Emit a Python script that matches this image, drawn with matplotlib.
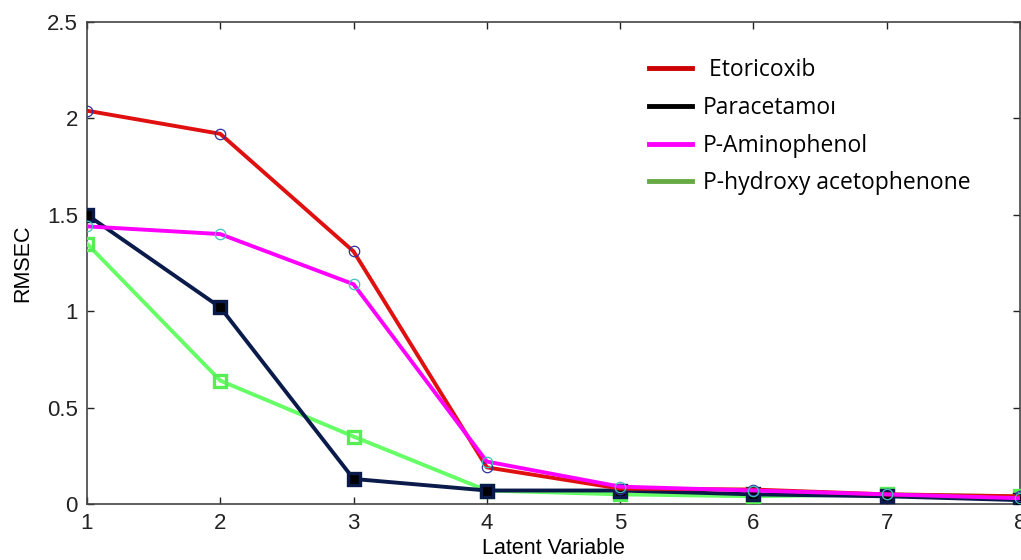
import matplotlib
matplotlib.use("Agg")
from matplotlib import pyplot as plt
from matplotlib.lines import Line2D

# latent variables on the x axis
latent = [1, 2, 3, 4, 5, 6, 7, 8]

# RMSEC per compound
etoricoxib = [2.04, 1.92, 1.31, 0.19, 0.08, 0.075, 0.05, 0.04]
paracetamol = [1.50, 1.02, 0.13, 0.07, 0.07, 0.05, 0.04, 0.02]
aminophenol = [1.44, 1.40, 1.14, 0.22, 0.09, 0.07, 0.05, 0.03]
hydroxyaceto = [1.35, 0.64, 0.35, 0.07, 0.05, 0.04, 0.05, 0.04]

legend_labels = [" Etoricoxib", "Paracetamoı", "P-Aminophenol", "P-hydroxy acetophenone"]

plt.rcParams['font.family'] = ['Liberation Sans', 'DejaVu Sans']

fig = plt.figure(figsize=(10.21, 5.6), dpi=100)
ax = fig.add_axes([0.0852, 0.1, 0.9138, 0.8607])

ax.plot(latent, etoricoxib, color='#e01010', lw=2.8, marker='o', ms=7.5,
        mfc='none', mec='#3030a0', mew=0.9, zorder=4)
ax.plot(latent, aminophenol, color='#ff00ff', lw=2.8, marker='o', ms=7.5,
        mfc='none', mec='#40c0c0', mew=0.9, zorder=4)
ax.plot(latent, hydroxyaceto, color='#66ff66', lw=2.8, marker='s', ms=9,
        mfc='none', mec='#55ee55', mew=2.4, zorder=3)
ax.plot(latent, paracetamol, color='#0a1a4a', lw=2.8, marker='s', ms=9,
        mfc='#000000', mec='#0a1a4a', mew=2.4, zorder=3)

ax.set_xlim(1, 8)
ax.set_ylim(0, 2.5)
ax.set_xticks(latent)
ax.set_yticks([0, 0.5, 1, 1.5, 2, 2.5])
ax.set_yticklabels(['0', '0.5', '1', '1.5', '2', '2.5'])
ax.tick_params(direction='in', top=True, right=True, labelsize=16, length=5,
               width=1, colors='#222222', pad=6.5)
for s in ax.spines.values():
    s.set_color('#444444')
    s.set_linewidth(1.2)

ax.set_xlabel('Latent Variable', fontsize=15.5, labelpad=3)
ax.set_ylabel('RMSEC', fontsize=15.5, labelpad=10)

# legend handles drawn in their own colours, as in the source figure
handles = [Line2D([0], [0], color='#cc0000', lw=3.5),
           Line2D([0], [0], color='#000000', lw=3.5),
           Line2D([0], [0], color='#ff00ff', lw=3.5),
           Line2D([0], [0], color='#66aa44', lw=3.5)]
ax.legend(handles, legend_labels, loc='upper left', bbox_to_anchor=(0.58, 0.968),
          frameon=False, prop={'family': ['Open Sans', 'DejaVu Sans'], 'size': 16.5},
          handlelength=1.9, handletextpad=0.45, labelspacing=0.6)

fig.savefig('out.png', dpi=100)
